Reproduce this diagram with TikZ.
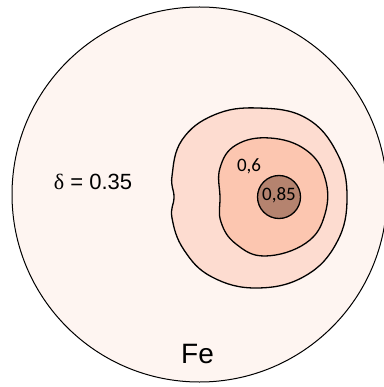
\documentclass[tikz,border=0pt]{standalone}
\usepackage{fontspec}
\setmainfont{Liberation Sans}
\newfontfamily\calibfont{Carlito}
\newfontfamily\greekfont{Liberation Serif}
\usepackage{tikz}
\definecolor{feouter}{RGB}{254,245,241}
\definecolor{femid}{RGB}{253,220,208}
\definecolor{feinner}{RGB}{252,198,176}
\definecolor{fecore}{RGB}{181,131,111}

\begin{document}
\begin{tikzpicture}[x=1pt, y=-1pt,
    zone/.style={draw=black, line width=1.3pt},
    lvlabel/.style={font=\calibfont\fontsize{19}{21}\selectfont, inner sep=0pt}
]
    \useasboundingbox (0,0) rectangle (383,387);

    % Outer grain
    \draw[fill=feouter, line width=1pt] (199.5,194.5) circle[radius=187.5];

    % Contour zones
    \draw[zone, fill=femid] plot[smooth cycle, tension=0.7] coordinates {
        (258,108) (306,118) (337,153) (347,197) (337,242) (305,276)
        (257,288) (212,277) (184,250) (172,218) (174,197)
        (172,176) (182,140) (214,115)};
    \draw[zone, fill=feinner] plot[smooth cycle, tension=0.7] coordinates {
        (270,138) (306,150) (325,178) (325,214) (306,243)
        (265,256) (236,244) (221,222) (220,197) (220,168) (236,145)};
    \draw[zone, fill=fecore] (279,197) circle[radius=21.5];

    % Labels
    \node[font=\fontsize{22}{24}\selectfont] (delta) at (93,182) {{\greekfont δ} = 0.35};
    \node[lvlabel] (l6) at (249,166) {0,6};
    \node[lvlabel] (l85) at (279,195.5) {0,85};
    \node[font=\fontsize{28}{30}\selectfont] (fe) at (197.5,354) {Fe};
\end{tikzpicture}
\end{document}
